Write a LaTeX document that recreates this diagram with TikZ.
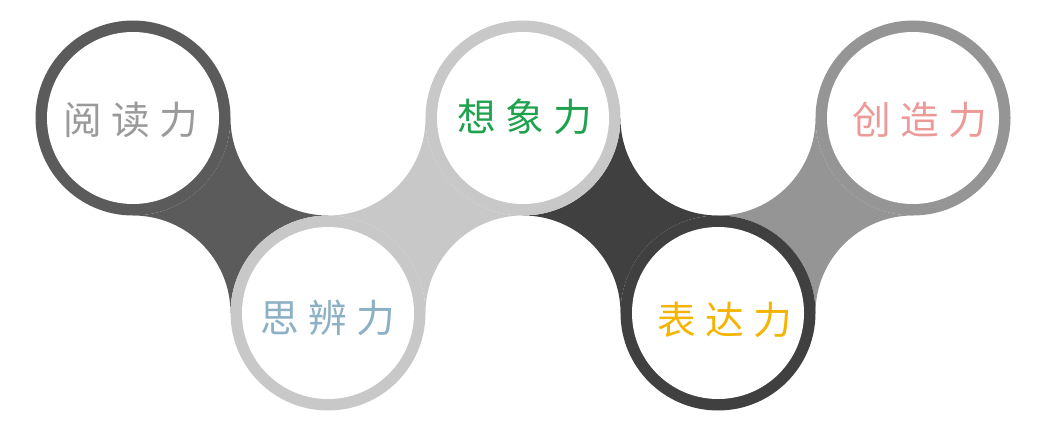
\documentclass[tikz,border=0pt]{standalone}
\usepackage{fontspec}
\newfontfamily\cjk{Noto Sans CJK SC}
\usetikzlibrary{calc}

\definecolor{ringdark}{HTML}{5B5B5B}
\definecolor{ringlight}{HTML}{C8C8C8}
\definecolor{ringblack}{HTML}{404040}
\definecolor{ringmid}{HTML}{959595}
\definecolor{txtgray}{HTML}{9A9A9A}
\definecolor{txtblue}{HTML}{8CB0C4}
\definecolor{txtgreen}{HTML}{1FA24E}
\definecolor{txtgold}{HTML}{F4B400}
\definecolor{txtpink}{HTML}{EC9A98}

\newcommand\chargap{\hspace{6.5pt}}

\begin{document}
\begin{tikzpicture}[x=0.025cm, y=0.025cm,
    word/.style={inner sep=0pt, font=\cjk\fontsize{27.5pt}{27.5pt}\selectfont}]
    \useasboundingbox (0,0) rectangle (1052,429);

    % Circle Centres
    \coordinate (c1) at (133,311);
    \coordinate (c2) at (328,116);
    \coordinate (c3) at (523,311);
    \coordinate (c4) at (718,116);
    \coordinate (c5) at (913,311);

    % Connectors
    % -- top to bottom
    \foreach \c/\col in {c1/ringdark, c3/ringblack} {
        \fill[\col] ($(\c)+(97.5,0)$) arc[start angle=180, end angle=270, radius=97.5]
            arc[start angle=90, end angle=180, radius=97.5]
            arc[start angle=0, end angle=90, radius=97.5]
            arc[start angle=270, end angle=360, radius=97.5] -- cycle;
    }
    % -- bottom to top
    \foreach \c/\col in {c2/ringlight, c4/ringmid} {
        \fill[\col] ($(\c)+(97.5,0)$) arc[start angle=180, end angle=90, radius=97.5]
            arc[start angle=270, end angle=180, radius=97.5]
            arc[start angle=0, end angle=-90, radius=97.5]
            arc[start angle=90, end angle=0, radius=97.5] -- cycle;
    }

    % Rings
    \foreach \c/\col in {c1/ringdark, c2/ringlight, c3/ringlight, c4/ringblack, c5/ringmid} {
        \fill[\col] (\c) circle[radius=97.5];
        \fill[white] (\c) circle[radius=86];
    }

    % Labels
    \node[word, text=txtgray]  (read)    at (131,309) {阅\chargap 读\chargap 力};
    \node[word, text=txtblue]  (think)   at (328,111) {思\chargap 辨\chargap 力};
    \node[word, text=txtgreen] (imagine) at (525,312) {想\chargap 象\chargap 力};
    \node[word, text=txtgold]  (express) at (725,109) {表\chargap 达\chargap 力};
    \node[word, text=txtpink]  (create)  at (920,309) {创\chargap 造\chargap 力};
\end{tikzpicture}
\end{document}
